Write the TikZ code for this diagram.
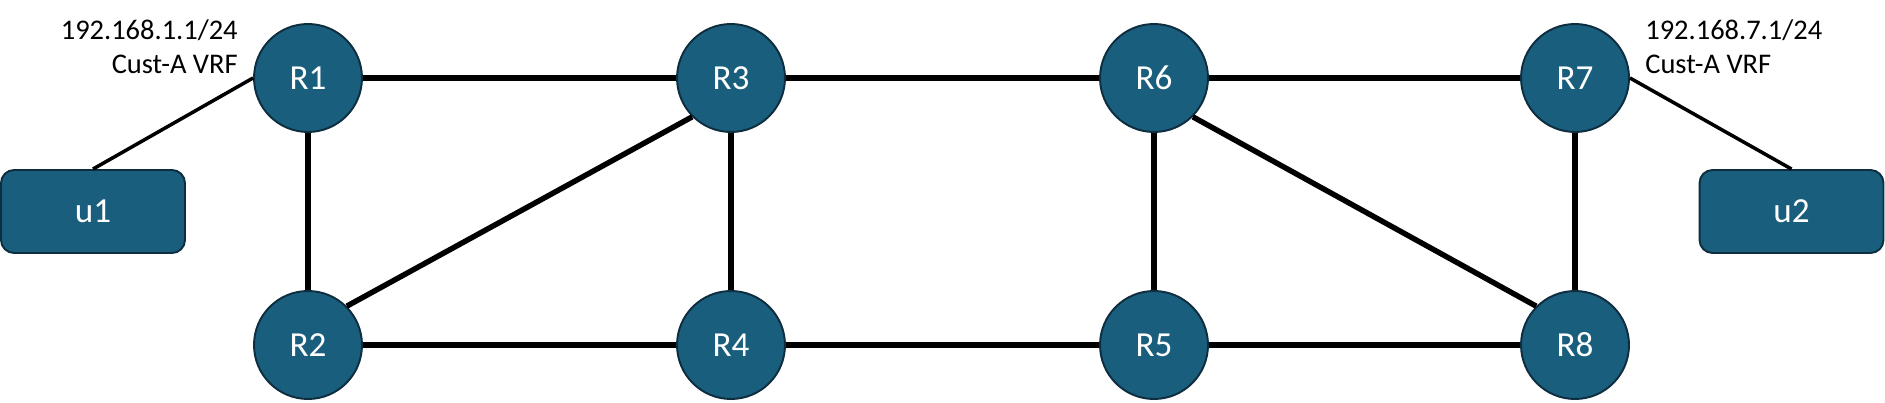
\documentclass[tikz,border=0pt]{standalone}
\usepackage{fontspec}
\setmainfont{Carlito}
\usetikzlibrary{positioning}

\definecolor{routerblue}{HTML}{1A5E7E}
\definecolor{routerline}{HTML}{0E2D3F}

\tikzset{
    router/.style={circle, draw=routerline, line width=1.1pt, fill=routerblue,
        minimum size=2.16cm, inner sep=0pt, text=white, font=\fontsize{20}{22}\selectfont},
    host/.style={rectangle, rounded corners=0.26cm, draw=routerline, line width=1.1pt,
        fill=routerblue, minimum width=3.68cm, minimum height=1.66cm, inner sep=0pt,
        text=white, font=\fontsize{20}{22}\selectfont},
    link/.style={line width=3.1pt, black},
    access/.style={line width=2pt, black},
    addr/.style={font=\fontsize{16.2}{19.6}\selectfont, inner sep=0pt}
}

\begin{document}
\begin{tikzpicture}[x=0.02cm,y=-0.02cm]
    \useasboundingbox (0,0) rectangle (1885,402);

    % Routers
    \node[router] (R1) at (308, 78) {R1};
    \node[router] (R3) at (731, 78) {R3};
    \node[router] (R6) at (1154, 78) {R6};
    \node[router] (R7) at (1575, 78) {R7};
    \node[router] (R2) at (308, 345) {R2};
    \node[router] (R4) at (731, 345) {R4};
    \node[router] (R5) at (1154, 345) {R5};
    \node[router] (R8) at (1575, 345) {R8};

    % Hosts
    \node[host] (u1) at (93, 211.5) {u1};
    \node[host] (u2) at (1791.5, 211.5) {u2};

    % Addresses
    \node[addr, anchor=north east, align=right] (addrA) at (238, 19)
        {192.168.1.1/24\\Cust-A VRF};
    \node[addr, anchor=north west, align=left] (addrB) at (1645, 19)
        {192.168.7.1/24\\Cust-A VRF};

    % Core links
    \foreach \a/\b in {R1/R3, R3/R6, R6/R7, R2/R4, R4/R5, R5/R8,
                       R1/R2, R3/R4, R6/R5, R7/R8} {
        \draw[link] (\a) -- (\b);
    }
    \draw[link] (R2.45) -- (R3.225);
    \draw[link] (R6.-45) -- (R8.135);

    % Access links
    \draw[access] (u1.north) -- (R1.west);
    \draw[access] (u2.north) -- (R7.east);
\end{tikzpicture}
\end{document}
